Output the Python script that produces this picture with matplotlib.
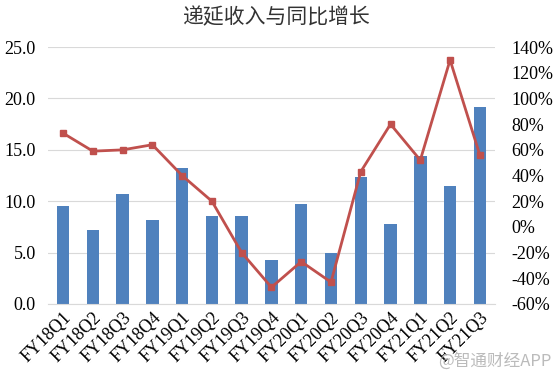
import numpy as np
import matplotlib.pyplot as plt
from matplotlib.ticker import FuncFormatter

quarters = ["FY18Q1", "FY18Q2", "FY18Q3", "FY18Q4", "FY19Q1", "FY19Q2", "FY19Q3", "FY19Q4",
            "FY20Q1", "FY20Q2", "FY20Q3", "FY20Q4", "FY21Q1", "FY21Q2", "FY21Q3"]
deferred_revenue = [9.5, 7.2, 10.7, 8.2, 13.2, 8.6, 8.6, 4.3,
                    9.7, 5.0, 12.4, 7.8, 14.4, 11.5, 19.2]
yoy_growth = [73, 59, 60, 64, 40, 20, -20, -47,
              -27, -43, 43, 80, 52, 130, 56]

serif = ["Liberation Serif", "DejaVu Serif"]
cjk = ["Noto Sans CJK SC", "DejaVu Sans"]

fig = plt.figure(figsize=(5.54, 3.8), dpi=100)
ax = fig.add_axes([0.087, 0.2, 0.806, 0.676])
x = np.arange(len(quarters))

ax.bar(x, deferred_revenue, width=0.42, color="#4F81BD", zorder=2)
ax.set_ylim(0, 25)
ax.set_yticks(np.arange(0, 25.1, 5))
ax.yaxis.set_major_formatter(FuncFormatter(lambda v, p: f"{v:.1f}"))
ax.set_xlim(-0.5, len(quarters) - 0.5)
ax.set_xticks(x)
ax.set_xticklabels(quarters, rotation=45, ha="right", rotation_mode="anchor",
                   family=serif, fontsize=13)
ax.grid(axis="y", color="#d9d9d9", linewidth=0.8, zorder=0)
for s in ["top", "right", "left"]:
    ax.spines[s].set_visible(False)
ax.spines["bottom"].set_color("#d9d9d9")
ax.tick_params(axis="both", length=0, labelsize=13)
ax.tick_params(axis="y", pad=9)
for lab in ax.get_yticklabels():
    lab.set_family(serif)

ax2 = ax.twinx()
ax2.plot(x, yoy_growth, color="#C0504D", linewidth=2, marker="s", markersize=5, zorder=3)
ax2.set_ylim(-60, 140)
ax2.set_yticks(np.arange(-60, 141, 20))
ax2.yaxis.set_major_formatter(FuncFormatter(lambda v, p: f"{v:.0f}%"))
for s in ["top", "right", "left", "bottom"]:
    ax2.spines[s].set_visible(False)
ax2.tick_params(axis="y", length=0, labelsize=13, pad=12)
for lab in ax2.get_yticklabels():
    lab.set_family(serif)

fig.text(0.5, 0.955, "递延收入与同比增长", ha="center", va="center",
         fontsize=15, family=cjk, color="#333333")
fig.text(0.995, 0.05, "@智通财经APP", ha="right", va="center",
         fontsize=12, family=cjk, color="#aaaaaa", alpha=0.8)

fig.savefig("out.png", dpi=100)
